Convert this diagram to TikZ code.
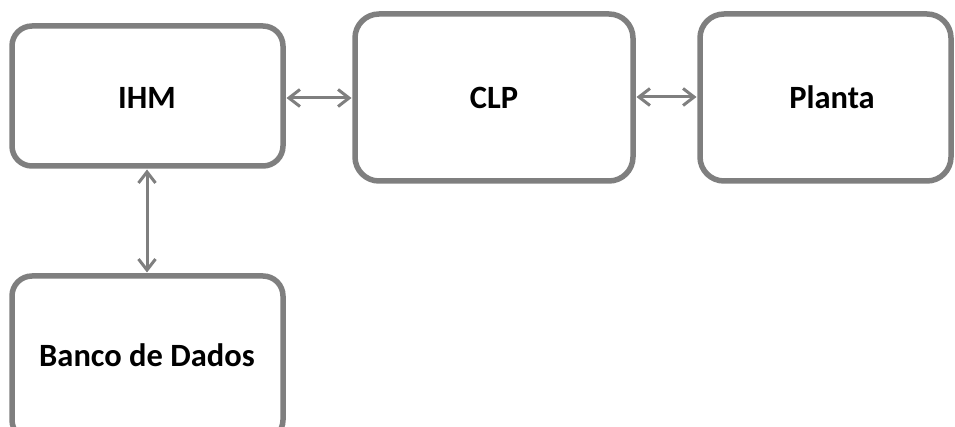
\documentclass[tikz,border=0pt]{standalone}
\usepackage{fontspec}
\setmainfont{Carlito}
\usetikzlibrary{arrows.meta}
\definecolor{boxgray}{HTML}{7F7F7F}
\begin{document}
\begin{tikzpicture}[x=1pt,y=-1pt,
  blockbox/.style={draw=boxgray, line width=5.5pt, rounded corners=20pt, fill=white},
  link/.style={draw=boxgray, line width=3pt, {Straight Barb[length=11pt,width=17pt,line width=3pt]}-{Straight Barb[length=11pt,width=17pt,line width=3pt]}, shorten <=1pt, shorten >=1pt},
  lbl/.style={font=\bfseries\fontsize{32.5}{36}\selectfont, text=black}]
\useasboundingbox (0,0) rectangle (955,427);
\draw[blockbox] (12,26) rectangle (283,166);
\draw[blockbox, rounded corners=24pt] (355,14) rectangle (633,181);
\draw[blockbox, rounded corners=24pt] (700,14) rectangle (951,181);
\draw[blockbox] (12,276) rectangle (283,440);
\coordinate (ihmR) at (285.5,98);
\coordinate (clpL) at (352.5,98);
\coordinate (clpR) at (635.5,97);
\coordinate (plaL) at (697.5,97);
\coordinate (ihmB) at (147,168.5);
\coordinate (bdT) at (147,273.5);
\node[lbl] (ihm) at (147,98) {IHM};
\node[lbl] (clp) at (494,98) {CLP};
\node[lbl] (planta) at (832,97) {Planta};
\node[lbl] (bd) at (147,355) {Banco de Dados};
\draw[link] (ihmR) -- (clpL);
\draw[link] (clpR) -- (plaL);
\draw[link] (ihmB) -- (bdT);
\end{tikzpicture}
\end{document}
